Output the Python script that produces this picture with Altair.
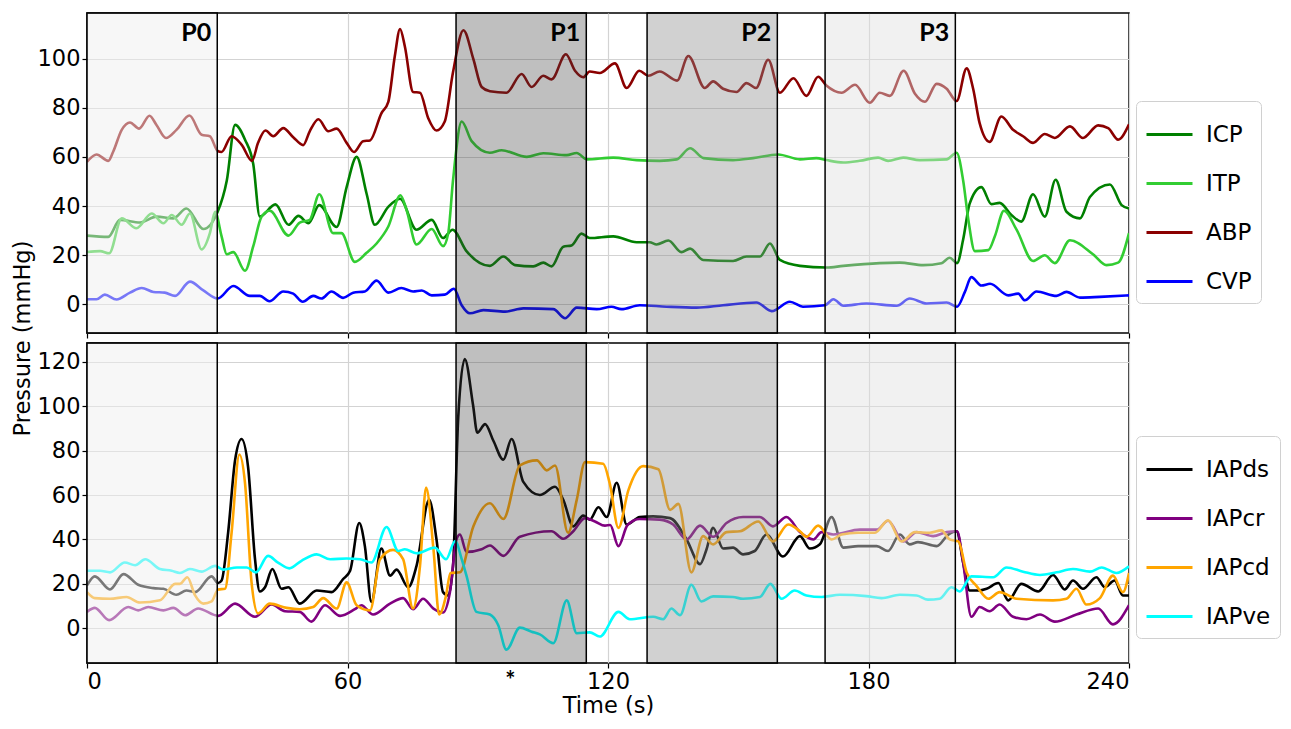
import altair as alt
import pandas as pd

# ---------------- data ----------------
ICP = [(0,28),(4.9,27.5),(7.6,34.4),(12.2,33.3),(16,35.7),(19.9,35),(22.9,39),(26.8,30.7),(30.1,37.7),
       (32.2,50.4),(34.1,73),(36.4,67),(38.3,57),(39.8,35.7),(43.4,40.7),(46.4,32.4),(48.7,36),(51,33),
       (53.5,40.4),(57.5,31.5),(59.8,47.7),(62.1,60),(64.4,45),(66.3,32.4),(69.4,39.7),(72.1,43),(75.9,30.4),
       (79.4,34.4),(82,27),(84.2,30.4),(87.4,21.7),(92.8,15.7),(95.9,19.5),(98.6,16),(102.8,15.5),(105.1,17),
       (107,15.5),(109.7,23.5),(111.6,24),(113.9,28.8),(115.8,27),(121.2,27.7),(126.6,25.3),(129.6,25.3),
       (131.2,24.4),(133.9,26),(136.9,21.3),(138.9,22.7),(141.9,18.1),(148.8,17.7),(151.9,19.5),(155,19.5),
       (157.3,24.8),(159.6,18.1),(164.2,15.7),(170.3,15),(174.2,15.7),(182.6,16.8),(187.2,17),(192.6,16),
       (196.8,16.8),(198.7,19),(200.4,16.8),(201.8,26.4),(203.3,41),(206,47.7),(208.3,40.8),(210.2,41.3),
       (212.9,36.4),(215.2,33.7),(217.9,44.8),(220.6,35.7),(223.1,50.7),(225.6,37.7),(228.7,35),(231,43.7),
       (235.6,48.8),(238.3,40.4),(240,39)]
ITP = [(0,21.3),(3,21.7),(5.1,20.8),(8,35),(11.4,31),(14.9,37),(17.6,33),(19.5,36.4),(21.8,32.4),(23.7,37),
       (26.4,22.4),(28.3,29),(29.5,37.7),(31,27.7),(32.2,20.4),(33.7,21.3),(36.4,13.7),(38.3,23.7),(40.2,35.7),
       (42.1,38.1),(46.4,28),(49,33.3),(51.3,34.4),(53.5,44.8),(56.7,29),(58.6,29),(61.7,17.3),(64.4,21),
       (66.7,24.8),(69.4,31.7),(72.2,44.4),(73.6,38.4),(75.9,24.4),(79.4,30.7),(82,23.7),(83.2,29),(84.3,50.4),
       (86.3,74.4),(88.6,66.4),(92.8,61.7),(95.5,62.7),(101.3,60),(105.1,61.5),(110.5,60.7),(112.8,61.6),
       (115.1,59),(121.2,59.7),(126.6,58.7),(131.9,58.4),(135.8,59),(138.9,63.5),(142,59.5),(148.8,58.7),
       (153.4,59.5),(159.2,61),(164.2,59),(168,59.5),(170.3,58.7),(174.2,57.7),(178,58.4),(182.2,59.7),
       (184.5,58.4),(188,59.7),(191.8,58.7),(198,59),(200.3,61.7),(201.8,50.4),(203,34.4),(204.5,21.7),
       (207.6,22.1),(209.1,27.7),(211.2,38.1),(214.1,30.4),(217.9,17.7),(220.6,20),(222.9,16.8),(226.4,26.1),
       (231.7,20.4),(234.8,16),(237.5,17),(240,29)]
ABP = [(0,58),(2.2,61),(4.9,58.4),(6,62),(8,71),(9.9,74),(12,71.5),(14.4,76.7),(16,73),(18.2,67.7),(20.6,71),
       (23.6,76.8),(26.4,69),(28.3,68.4),(30.1,62.4),(31,62),(33.3,68.4),(35.6,65),(38,58.4),(39.4,65.7),
       (41.1,70.7),(42.9,68.4),(45.2,71.7),(47.5,68),(49.8,64.8),(51.3,70.4),(53.3,75.3),(55.6,70.4),(57.5,71.5),
       (59.8,65.7),(61.5,62),(63.6,66.4),(65.2,66.7),(67.8,77.7),(69.4,82.4),(70.9,101),(72.1,112),(73.2,105),
       (75.1,86.4),(76.7,86.1),(78.6,75.7),(80.5,70.7),(82.4,74.4),(84.3,94.4),(86.7,111.5),(89,99.7),
       (90.9,88.4),(92.8,86.7),(96.6,86.1),(100.1,93.7),(102.4,88.4),(105.1,93),(107,91.5),(110.3,101.7),
       (112.4,95),(114.3,92.4),(115.8,94.7),(118.1,94.1),(121.6,98),(124.3,88),(127.2,95),(129.3,93),
       (131.9,94.7),(135.9,91),(138.5,101),(142.3,88),(144.2,90.7),(146.5,87.7),(149.6,86.4),(151.9,90),
       (154.1,88),(156.9,99.5),(159.6,86.1),(162.7,92),(165.7,84.8),(168.4,92.6),(170.3,89),(173.8,86.1),
       (176.9,89.3),(180.3,82),(182.6,86.1),(184.9,84.8),(188.1,95),(190.7,85.7),(193,82.4),(195.7,89.7),
       (198,87.7),(200.3,82.7),(202.6,96),(204.1,87.7),(205.6,73.7),(207.9,66.1),(210.6,76.4),(213.3,71),
       (215.6,68.4),(217.9,65.7),(220.6,69.3),(222.9,67.7),(226.4,72.4),(229.4,67.7),(232.9,72.8),(235.2,71.7),
       (237.5,67),(240,73.3)]
CVP = [(0,2.1),(2.2,2.1),(4.1,4),(6.8,2),(9.9,4.8),(12.6,6.7),(15.3,5.1),(17.9,4.8),(20.3,3.5),(23.7,9.3),
       (26.8,5.7),(30.1,2.4),(33.7,7.5),(37.5,3.5),(39.8,3.5),(42,1.3),(45.2,5.3),(47.5,4.4),(49.7,1.1),
       (52.1,3.5),(54,2.4),(56.3,5.3),(59,2.7),(61.3,4.8),(64,5.3),(66.7,9.7),(69.4,4.8),(72.4,6.7),(75.1,5.3),
       (77.1,5.7),(79.4,3.7),(82.4,4),(84.5,6.4),(86.3,-0.3),(88.2,-3.6),(91.3,-2.3),(96.3,-2.9),(100.5,-1.6),
       (107.4,-1.9),(110.1,-5.6),(112.8,-1.3),(117.4,-1.9),(120.8,-0.9),(123.1,-1.9),(127.3,-0.3),(133.5,-0.9),
       (140.4,-1.3),(146.5,-0.3),(154.2,0.8),(157.7,-2.7),(161.9,1.1),(164.9,-0.9),(170,-0.3),(171.9,2.1),
       (174.2,-0.5),(179.5,0.4),(186.5,-0.5),(189.5,2.4),(193.4,0.4),(198,0.8),(200.4,-0.9),(202.2,5.1),
       (203.7,11.1),(206,7.7),(208,8.4),(212.2,3.7),(214.5,4.4),(216,1.7),(218.7,5.3),(223.3,3.5),(225.6,5.1),
       (228.7,2.8),(233.3,3.1),(240,3.7)]

IAPds = [(0,19.3),(1.8,23.4),(5.3,17.5),(8.4,24.4),(11.8,19.6),(15.3,18.1),(17.6,17.8),(20.6,15.1),(22.9,17),
         (24.9,16.3),(28.7,23.4),(30.2,20.4),(31,21.5),(32.5,43),(34.1,75.6),(35.6,85.2),(37.1,72.6),(38.7,31.1),
         (39.8,16.6),(41,18.5),(42.7,26.7),(44.8,17.8),(46.4,18.5),(49,11.1),(52.9,17),(56.3,16.3),(59,22.2),
         (60.6,25.9),(62.7,47.4),(64,37),(65.5,11.9),(67.8,35.9),(69.8,23.7),(71.3,26.4),(74,18.5),(75.9,28.1),
         (78.8,57.8),(80.5,40),(82,16.3),(83.2,14.8),(84.3,28.1),(85.5,94.8),(87,121.2),(88.9,100.7),(89.9,88),
         (91.7,91.9),(93.6,84.4),(95.9,75.9),(97.8,85.2),(100.5,65.9),(104.3,60),(107.8,63.7),(109.7,57.8),
         (112,45.9),(114.3,50.7),(115.8,48.9),(117.8,54.5),(119.7,50.1),(122,65.5),(124.3,46.7),(127.3,50.1),
         (130.4,50.4),(134.3,49.6),(138.1,40),(141.2,28.9),(142.7,35.6),(144.2,45.2),(146.5,35.9),(148.8,36.3),
         (151.1,33.3),(153.8,34.8),(156.5,42.2),(160.3,32.3),(164.2,41.5),(166.5,35.9),(168.8,37.8),(171.5,50.1),
         (174.2,36.3),(177.6,37),(181.9,37),(184.5,34.8),(187.2,42.2),(189.5,37.8),(191.4,38.8),(195.7,37),
         (198.4,42.2),(200.3,43.7),(201.8,29.6),(203.3,17),(205.3,17),(207.2,17.8),(209.9,20.4),(212.2,12.6),
         (215.2,20),(219.1,16.6),(222.5,24),(225.2,17.5),(227.1,21.5),(229.4,17.8),(232.5,23),(234.4,18.5),
         (236.7,21.5),(238.6,14.8),(240,14.8)]
IAPcr = [(0,7.4),(1.8,9.2),(5.1,3.7),(9.5,9.6),(11.8,8.1),(14.1,9.6),(17.6,8.1),(19.9,9.2),(22.6,5.9),(25.6,8.9),
         (30.2,5.6),(34.1,11.1),(38.7,5.2),(42.5,10.7),(45.6,7.7),(49,7.4),(51.7,3),(54.8,10.4),(58.3,5.6),
         (61.7,8.6),(63.2,10.4),(65.9,6.2),(69.8,11.1),(72.8,13.6),(75.1,8.6),(77.4,13.3),(79.8,8.9),(82,7.1),
         (83.6,16.3),(85.1,40),(85.9,42.2),(87.4,34.4),(90.9,35.6),(92.8,37.3),(95.9,32.6),(99.7,41.2),(107,43.7),
         (109.7,40.3),(112,43.7),(114.7,49.6),(117,48.1),(119.3,46.2),(120.5,46.5),(122.4,37),(124.5,46.5),
         (127.3,49.2),(131.9,48.9),(135,46.7),(138.1,40),(141.2,46.2),(144.2,41.2),(147.3,47.4),(151.1,50.1),
         (155,50.1),(158,45.9),(161.1,50.1),(164.2,43.3),(167.3,40),(169.2,43.3),(171.9,42.2),(178,44.4),
         (181.9,44.4),(184.5,48.4),(188,39.1),(191.1,43.3),(194.9,41.5),(198,43.3),(200.4,43.7),(201.8,29.6),
         (203.7,5.2),(205.6,9.6),(207.9,7.7),(210.2,10.7),(213.3,5.2),(216.4,4.1),(219.5,6.2),(222.9,3),
         (227.9,6.2),(232.9,8.9),(236.3,1.8),(240,10.4)]
IAPcd = [(0,16.3),(1.8,13.6),(5.3,13.3),(9.1,14.1),(12.2,11.6),(16.8,12.6),(20.3,20),(21.4,20),(23.1,23),
         (24.9,14.8),(26.8,11.1),(28.7,12.1),(30.2,17.5),(31.8,17.8),(33.3,43),(35.1,78.2),(36.4,65.2),(37.9,20.7),
         (39.4,6.7),(42.1,11.1),(46,9.2),(49,8.6),(52.1,9.6),(54.4,13.6),(57.5,8.9),(59.8,20.7),(62.1,10.4),
         (65.2,8.1),(67.5,31.1),(70.5,35.3),(72.8,31.1),(75.1,8.9),(76.7,28.1),(78.1,63.4),(79.8,35.6),(81.1,6.2),
         (82.7,14.8),(83.7,24.9),(85.9,25.2),(89,45.9),(92.8,56.3),(95.9,49.2),(99.7,73.3),(103.6,75.6),
         (105.9,71.1),(107.8,73.3),(110.8,43),(112.8,57.8),(114.7,74.8),(118.9,74.1),(120.4,65.2),(122.4,45.2),
         (124.7,62.2),(128.1,73),(131.6,71.6),(134.3,53.3),(136.2,56),(139.2,25.2),(141.9,41.5),(144.2,37.8),
         (147.3,43.3),(150.4,43.7),(154.6,48.1),(158,39.1),(161.5,46.7),(164.2,43.7),(165.7,41.2),(168.4,46.2),
         (171.5,40),(173.8,42.2),(177.6,43),(181.5,43),(184.5,48.6),(187.6,39.1),(190.7,43.3),(194.1,43),
         (196.8,44.1),(198.7,40),(200.7,39.1),(202.6,25.2),(204.9,19),(207.6,13.3),(210.2,16.3),(214.1,13.3),
         (222.5,12.6),(225.6,13.3),(227.9,17.8),(230.2,10.7),(233.3,13.6),(236.3,23.7),(238.6,16.3),(240,24.9)]
IAPve = [(0,25.9),(3,25.9),(5.3,25.2),(8.7,29.6),(11.1,28.4),(13.4,31.1),(16.8,26.7),(19.5,25.9),(21.4,24.9),
         (23.7,26.7),(26.4,25.5),(29.5,28.1),(31.4,26.4),(34.5,27.4),(36.8,27.4),(38.9,25.2),(41.7,32.6),(44,29.6),
         (46.6,27),(49.4,30.4),(52.9,33.3),(56,31.1),(59.8,31.4),(62.9,31.1),(65.5,29.6),(69,45.6),(71.7,34.8),
         (73.2,35.6),(75.9,33.8),(80.1,36.3),(82.7,31.1),(84.8,39.3),(86.3,31.1),(87.4,23.7),(89.7,7.4),
         (92.8,6.2),(94.7,1.5),(96.6,-9.6),(99.7,0.3),(102.4,-1.5),(104.3,-2.7),(107.4,-6.7),(110.5,12.6),
         (112.8,-2.2),(115.8,-1.8),(118.1,-3.7),(122.4,7.4),(125,4.1),(130.4,5.2),(132.7,4.1),(134.6,8.9),
         (136.6,5.9),(139.2,19.6),(141.5,12.1),(144.2,14.4),(148.8,14.1),(151.1,13.3),(155,14.1),(157.4,20),
         (160,13.3),(163,17),(165.7,14.8),(169.2,14.1),(173.4,15.1),(179.5,14.5),(183,13.6),(187.2,15.1),
         (191.1,14.8),(193.7,12.9),(196.4,13.3),(199.1,18.5),(201,16.6),(203.7,23.4),(208.7,23),(211.8,27.4),
         (215.6,25.5),(219.5,24),(223.3,25.2),(227.1,26.7),(231,25.5),(233.7,27.4),(237.1,24.9),(240,27.9)]

TOP_NAMES = ["ICP", "ITP", "ABP", "CVP"]
TOP_COLORS = ["#008000", "#32cd32", "#8b0000", "#0000ff"]
BOT_NAMES = ["IAPds", "IAPcr", "IAPcd", "IAPve"]
BOT_COLORS = ["#000000", "#800080", "#ffa500", "#00ffff"]

PHASES = ["P0", "P1", "P2", "P3"]
PH_START = [0, 85, 129, 170]
PH_END = [30, 115, 159, 200]
PH_FILL = ["#efefef", "#3c3c3c", "#8c8c8c", "#e1e1e1"]
PH_OPAC = [0.5, 0.33, 0.4, 0.45]

X_TICKS = [0, 60, 120, 180, 240]
TOP_YTICKS = [0, 20, 40, 60, 80, 100]
BOT_YTICKS = [0, 20, 40, 60, 80, 100, 120]
TOP_YDOM = [-11.6, 118.5]
BOT_YDOM = [-15.6, 128.4]

W, H = 1042, 320
FONT = "DejaVu Sans"
FS = 22.5


def long_df(names, series):
    rows = []
    for n, pts in zip(names, series):
        for t, v in pts:
            rows.append({"t": t, "v": v, "s": n})
    return pd.DataFrame(rows)


top_df = long_df(TOP_NAMES, [ICP, ITP, ABP, CVP])
bot_df = long_df(BOT_NAMES, [IAPds, IAPcr, IAPcd, IAPve])
phase_df = pd.DataFrame({"label": PHASES, "start": PH_START, "end": PH_END,
                         "fill": PH_FILL, "op": PH_OPAC})
star_df = pd.DataFrame({"t": [97.5], "txt": ["*"]})


def panel(df, names, colors, ydom, yticks, bottom, legend_y):
    xscale = alt.Scale(domain=[0, 240], nice=False, zero=False)
    xaxis = alt.Axis(values=X_TICKS, labels=bottom, title="Time (s)" if bottom else None,
                     grid=True, labelPadding=2, titlePadding=2)
    if bottom:
        yaxis = alt.Axis(values=yticks, title="Pressure (mmHg)", titleY=-5, grid=True,
                         titlePadding=3)
    else:
        yaxis = alt.Axis(values=yticks, title=None, grid=True)
    yscale = alt.Scale(domain=ydom, nice=False, zero=False)
    cscale = alt.Scale(domain=names, range=colors)
    legend = alt.Legend(title=None, orient="none", legendX=1049, legendY=legend_y,
                        symbolType="stroke", symbolSize=2116, symbolStrokeWidth=3,
                        labelFont=FONT, labelFontSize=23, rowPadding=12, padding=9,
                        strokeColor="#d0d0d0", cornerRadius=5, fillColor="white",
                        labelOffset=12, labelLimit=200)
    layers = []
    for n in names:
        layers.append(
            alt.Chart(df).transform_filter(alt.datum.s == n)
            .mark_line(interpolate="monotone", strokeWidth=2.6, clip=True)
            .encode(x=alt.X("t:Q", scale=xscale, axis=xaxis),
                    y=alt.Y("v:Q", scale=yscale, axis=yaxis),
                    color=alt.Color("s:N", scale=cscale, legend=legend))
        )
    rects = alt.Chart(phase_df).mark_rect(stroke="black", strokeWidth=1.5, strokeOpacity=1).encode(
        x=alt.X("start:Q", scale=xscale, axis=xaxis),
        x2="end:Q",
        y=alt.value(0), y2=alt.value(H),
        fill=alt.Fill("fill:N", scale=None),
        fillOpacity=alt.FillOpacity("op:Q", scale=None),
    )
    layers.append(rects)
    if not bottom:
        labels = alt.Chart(phase_df).mark_text(align="right", baseline="middle", dx=-6,
                                              font="Lato", fontWeight="bold", fontSize=25,
                                              color="black").encode(
            x=alt.X("end:Q", scale=xscale, axis=xaxis), y=alt.value(20), text="label:N")
        layers.append(labels)
    else:
        star = alt.Chart(star_df).mark_text(align="center", baseline="middle", font="Lato",
                                            fontWeight="bold", fontSize=24, color="black").encode(
            x=alt.X("t:Q", scale=xscale, axis=xaxis), y=alt.value(H + 19), text="txt:N")
        layers.append(star)
    return alt.layer(*layers).properties(width=W, height=H)


top = panel(top_df, TOP_NAMES, TOP_COLORS, TOP_YDOM, TOP_YTICKS, False, 88)
bot = panel(bot_df, BOT_NAMES, BOT_COLORS, BOT_YDOM, BOT_YTICKS, True, 93)

chart = alt.vconcat(top, bot, spacing=10, bounds="flush").resolve_scale(
    color="independent", y="independent"
).properties(padding={"left": 2, "top": 3, "right": 0, "bottom": 0}).configure_axis(
    labelFont=FONT, labelFontSize=FS, labelColor="black",
    titleFont=FONT, titleFontSize=FS, titleFontWeight="normal", titleColor="black",
    gridColor="#d3d3d3", gridWidth=1.2, tickColor="black", tickSize=5, tickWidth=1.2,
    domain=False
).configure_view(stroke="black", strokeWidth=1.5)

chart.save("out.html", embed_options={"renderer": "svg", "actions": False})
